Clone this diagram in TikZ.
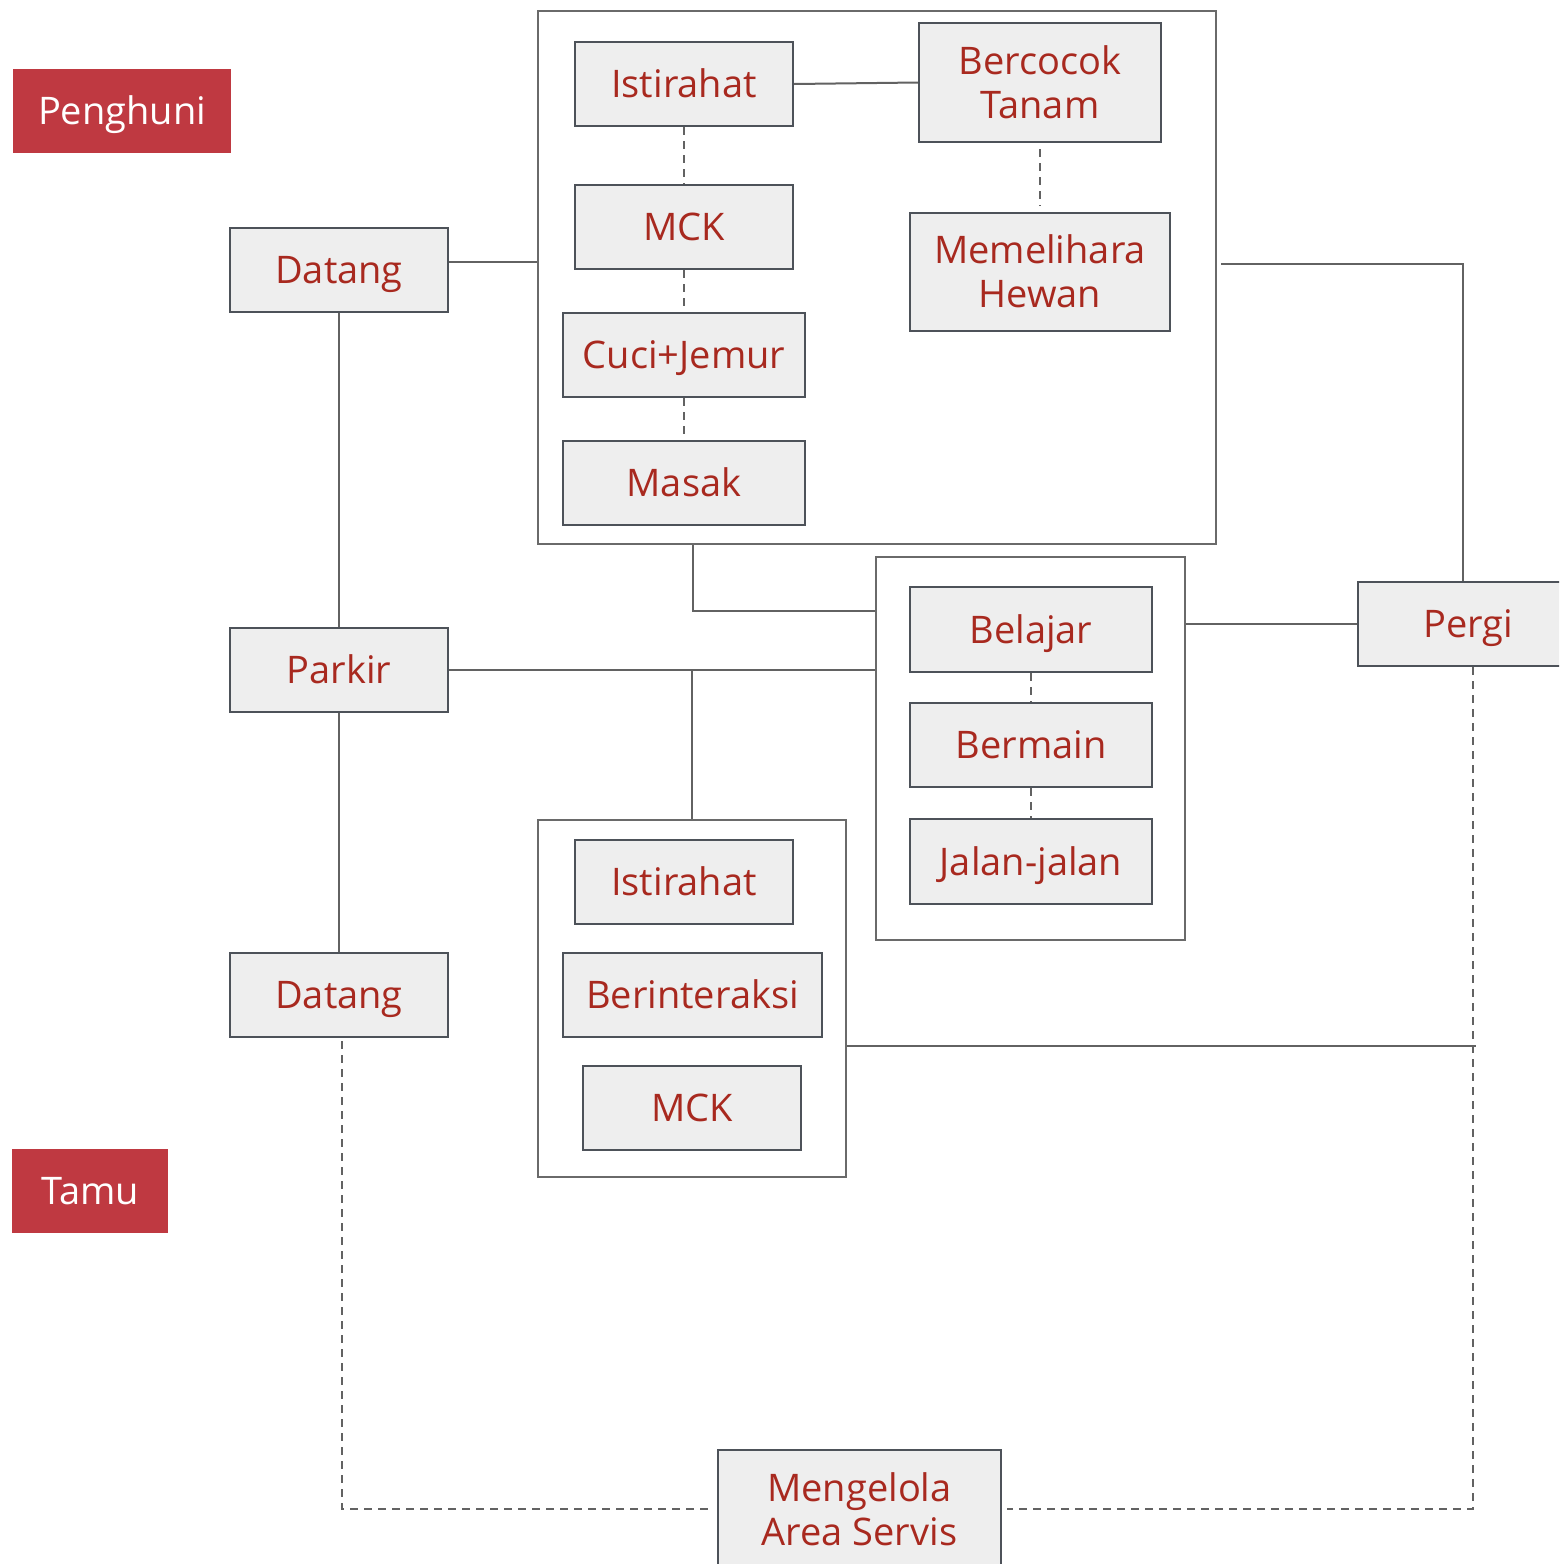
\documentclass[tikz,border=0pt]{standalone}
\usepackage{fontspec}
\setmainfont{Open Sans}
\definecolor{boxfill}{HTML}{EEEEEE}
\definecolor{boxline}{HTML}{4D5259}
\definecolor{grpline}{HTML}{6A6A6A}
\definecolor{linkc}{HTML}{626262}
\definecolor{txtred}{HTML}{A8291F}
\definecolor{tagred}{HTML}{BF3941}
\begin{document}
\begin{tikzpicture}[x=1pt,y=-1pt,
  box/.style={draw=boxline, fill=boxfill, line width=2.2pt, text=txtred,
    font=\fontsize{38}{44}\selectfont, inner sep=0pt, text height=27pt, text depth=0pt, align=center},
  twoline/.style={text height=71pt, text depth=0pt},
  tag/.style={fill=tagred, text=white, font=\fontsize{38}{44}\selectfont,
    inner sep=0pt, text height=27pt, text depth=0pt},
  grp/.style={draw=grpline, line width=2pt, inner sep=0pt},
  link/.style={draw=linkc, line width=2pt},
  dashlink/.style={draw=linkc, line width=2pt, dash pattern=on 8pt off 6pt}]
\clip (0,0) rectangle (1559,1564);
\fill[white] (0,0) rectangle (1559,1564);
% containers
\node[grp, minimum width=678pt, minimum height=533pt] (g1) at (877,277.5) {};
\node[grp, minimum width=309pt, minimum height=383pt] (g2) at (1030.5,748.5) {};
\node[grp, minimum width=308pt, minimum height=357pt] (g3) at (692,998.5) {};
% tags
\node[tag, minimum width=218pt, minimum height=84pt] (peng) at (122,111) {Penghuni};
\node[tag, minimum width=156pt, minimum height=84pt] (tamu) at (90,1191) {Tamu};
% left column
\node[box, minimum width=218pt, minimum height=84pt] (dat1) at (339,270) {Datang};
\node[box, minimum width=218pt, minimum height=84pt] (park) at (339,670) {Parkir};
\node[box, minimum width=218pt, minimum height=84pt] (dat2) at (339,995) {Datang};
% top group
\node[box, minimum width=218pt, minimum height=84pt] (ist1) at (684,84) {Istirahat};
\node[box, minimum width=218pt, minimum height=84pt] (mck1) at (684,227) {MCK};
\node[box, minimum width=242pt, minimum height=84pt] (cuci) at (684,355) {Cuci+Jemur};
\node[box, minimum width=242pt, minimum height=84pt] (masak) at (684,483) {Masak};
\node[box, twoline, minimum width=242pt, minimum height=119pt] (berc) at (1040,82.5) {Bercocok\\Tanam};
\node[box, twoline, minimum width=260pt, minimum height=118pt] (memel) at (1040,272) {Memelihara\\Hewan};
% middle group
\node[box, minimum width=242pt, minimum height=85pt] (bel) at (1031,629.5) {Belajar};
\node[box, minimum width=242pt, minimum height=84pt] (berm) at (1031,745) {Bermain};
\node[box, minimum width=242pt, minimum height=85pt] (jalan) at (1031,861.5) {Jalan-jalan};
% bottom group
\node[box, minimum width=218pt, minimum height=84pt] (ist2) at (684,882) {Istirahat};
\node[box, minimum width=259pt, minimum height=84pt] (inter) at (692.5,995) {Berinteraksi};
\node[box, minimum width=218pt, minimum height=84pt] (mck2) at (692,1108) {MCK};
% right / bottom
\node[box, minimum width=220pt, minimum height=84pt] (pergi) at (1468,624) {Pergi};
\node[box, twoline, minimum width=283pt, minimum height=120pt] (meng) at (859.5,1510) {Mengelola\\Area Servis};
% junction coordinates
\coordinate (j1) at (692,670);
\coordinate (j2) at (693,611);
\coordinate (j3) at (1463,264);
\coordinate (j4) at (1473,1509);
\coordinate (j5) at (342,1509);
\coordinate (j6) at (1476,1046);
% solid connectors
\draw[link] ([yshift=8pt]dat1.east) -- ([yshift=8pt]dat1.east -| g1.west);
\draw[link] (dat1.south) -- (park.north);
\draw[link] (park.south) -- (dat2.north);
\draw[link] (park.east) -- (park.east -| g2.west);
\draw[link] (j1) -- (j1 |- g3.north);
\draw[link] (j2 |- g1.south) -- (j2) -- (j2 -| g2.west);
\draw[link] (ist1.east) -- (berc.west);
\draw[link] ([xshift=4pt]g1.east |- j3) -- (j3) -- (j3 |- pergi.north);
\draw[link] (pergi.west -| g2.east) -- (pergi.west);
\draw[link] (g3.east |- j6) -- (j6);
% dashed connectors
\draw[dashlink] (ist1.south) -- (mck1.north);
\draw[dashlink] (mck1.south) -- (cuci.north);
\draw[dashlink] (cuci.south) -- (masak.north);
\draw[dashlink, shorten <=6pt, shorten >=6pt] (berc.south) -- (memel.north);
\draw[dashlink] (bel.south) -- (berm.north);
\draw[dashlink] (berm.south) -- (jalan.north);
\draw[dashlink] (pergi.south -| j4) -- (j4) -- ([xshift=5pt]meng.east |- j4);
\draw[dashlink] ([yshift=-3pt]dat2.south -| j5) -- (j5) -- ([xshift=-3pt]meng.west |- j5);
\end{tikzpicture}
\end{document}
